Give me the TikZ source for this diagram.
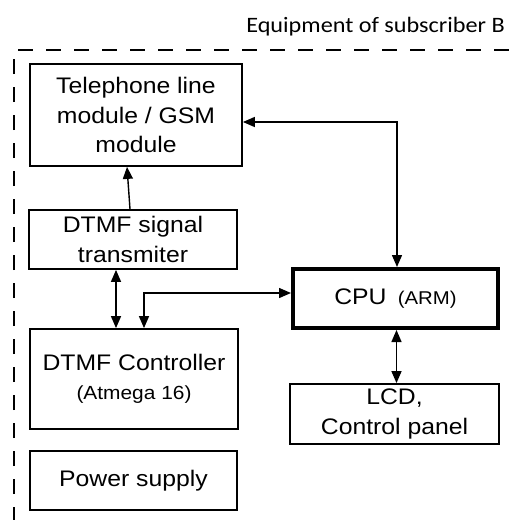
\documentclass[tikz,border=0pt]{standalone}
\usepackage{fontspec}
\setmainfont[FakeStretch=1.1]{Liberation Sans}
\newfontfamily\titlefont[FakeStretch=1.1]{Carlito}
\usetikzlibrary{arrows.meta}
\tikzset{
  tip/.tip={Triangle[length=12pt,width=10pt]},
  box/.style={draw, line width=1.8pt, inner sep=0pt, align=center,
    font=\fontsize{22.5}{29.5}\selectfont},
  cpubox/.style={box, line width=4pt},
  conn/.style={line width=1.4pt, tip-tip},
  oneway/.style={line width=1.4pt, -tip},
  frame/.style={line width=2pt, dash pattern=on 15pt off 13pt}
}
\begin{document}
\begin{tikzpicture}[x=1pt,y=-1pt]
\useasboundingbox (0,0) rectangle (510,520);
% frame
\coordinate (fbl) at (14,522);
\coordinate (fc) at (14,50);
\coordinate (ftr) at (512,50);
\draw[frame] (fbl) -- (fc) -- (ftr);
\node[anchor=base east, inner sep=0pt, font=\titlefont\fontsize{22}{26}\selectfont] (title) at (505,32) {Equipment of subscriber B};
% boxes
\node[box, minimum width=212pt, minimum height=102pt] (tel) at (136,115) {Telephone line\\module / GSM\\module};
\node[box, minimum width=208pt, minimum height=59pt] (dtx) at (133,239.5) {DTMF signal\\transmiter};
\node[box, minimum width=208pt, minimum height=100pt] (ctrl) at (134,379) {DTMF Controller\\{\fontsize{19}{22}\selectfont(Atmega 16)}};
\node[box, minimum width=207pt, minimum height=59pt] (pwr) at (133.5,480.5) {Power supply};
\node[cpubox, minimum width=205pt, minimum height=59pt] (cpu) at (395.5,298.5) {CPU\enspace{\fontsize{18.5}{20}\selectfont(ARM)}};
\node[box, minimum width=209pt, minimum height=60pt] (lcd) at (394.5,414) {LCD,\\Control panel};
% connectors
\draw[conn] ([yshift=-7pt]tel.east) -| ([xshift=1.5pt]cpu.north);
\draw[oneway] ([xshift=-3pt]dtx.north) -- ([xshift=-9pt]tel.south);
\draw[conn] ([xshift=-17pt]dtx.south) -- ([xshift=-18pt]ctrl.north);
\draw[conn] ([xshift=10pt]ctrl.north) |- ([yshift=5.5pt]cpu.west);
\draw[conn] ([xshift=1pt]cpu.south) -- ([xshift=2pt]lcd.north);
\end{tikzpicture}
\end{document}
